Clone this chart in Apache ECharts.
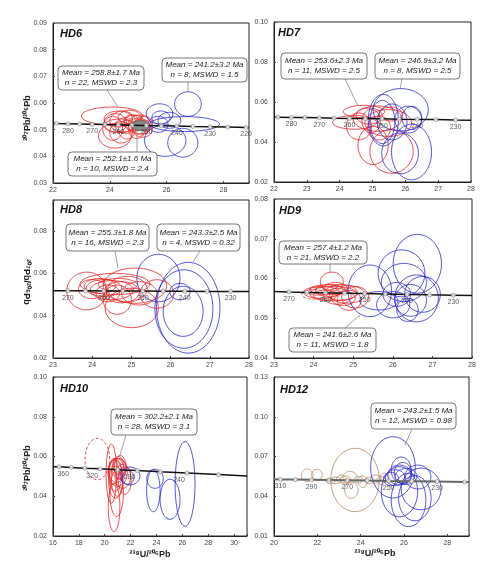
<!DOCTYPE html>
<html><head><meta charset="utf-8">
<script src="https://cdn.jsdelivr.net/npm/echarts@6/dist/echarts.min.js"></script>
<style>html,body{margin:0;padding:0;background:#fff}#c{width:491px;height:562px}</style>
</head><body><div id="c"></div>
<script>
// ---------------- DATA ----------------
// ellipses: [center 238U/206Pb, center 207Pb/206Pb, half-width, half-height]
const hd6Red = [[24.08,0.0551,1.08,0.0034],[24.18,0.0477,0.58,0.0046],[24.30,0.0540,0.50,0.0030],[24.45,0.0530,0.45,0.0040],[24.20,0.0525,0.40,0.0035],[24.55,0.0515,0.35,0.0030],[24.10,0.0505,0.35,0.0045],[24.70,0.0545,0.40,0.0028],[24.60,0.0500,0.30,0.0035],[24.35,0.0515,0.55,0.0025],[24.85,0.0525,0.35,0.0030],[24.40,0.0490,0.40,0.0040],[25.05,0.0520,0.40,0.0035],[25.10,0.0510,0.30,0.0030],[25.20,0.0525,0.30,0.0025],[24.95,0.0505,0.30,0.0038],[25.15,0.0500,0.35,0.0028],[24.75,0.0535,0.25,0.0020],[25.25,0.0515,0.25,0.0020]];
const hd6Mean = [[25.08,0.0515,0.32,0.0019]];
const hd6Blue = [[25.75,0.0559,0.47,0.0038],[26.75,0.0596,0.47,0.0046],[25.80,0.0545,0.32,0.0025],[26.63,0.0521,1.23,0.0028],[25.95,0.0459,0.73,0.0059],[26.57,0.0451,0.53,0.0054],[25.70,0.0520,0.35,0.0030],[26.10,0.0535,0.40,0.0030]];

const hd7Red = [[24.45,0.0498,0.67,0.0034],[24.74,0.0552,0.63,0.0031],[24.59,0.0478,0.38,0.0067],[25.02,0.0383,0.46,0.0096],[25.15,0.0517,0.74,0.0063],[24.96,0.0504,0.28,0.0059],[25.48,0.0495,0.71,0.0067],[25.58,0.0353,0.66,0.0109],[25.55,0.0540,0.35,0.0035],[24.90,0.0530,0.40,0.0040],[25.20,0.0470,0.35,0.0060]];
const hd7Blue = [[25.86,0.0561,0.84,0.0106],[25.33,0.0509,0.46,0.0129],[25.30,0.0500,0.38,0.0108],[25.84,0.0343,0.56,0.0102],[26.19,0.0350,0.61,0.0139],[26.09,0.0512,0.41,0.0067],[26.20,0.0520,0.30,0.0058],[25.60,0.0500,0.45,0.0090]];

const hd8Red = [[23.86,0.0516,0.51,0.0089],[24.58,0.0549,0.89,0.0050],[25.09,0.0541,0.81,0.0083],[25.01,0.0436,0.68,0.0093],[24.64,0.0475,0.36,0.0069],[25.65,0.0502,0.43,0.0067],[24.30,0.0530,0.45,0.0040],[24.50,0.0520,0.55,0.0045],[24.75,0.0510,0.45,0.0050],[24.20,0.0540,0.40,0.0035],[24.90,0.0525,0.50,0.0060],[24.40,0.0505,0.30,0.0040],[25.20,0.0505,0.45,0.0055],[24.65,0.0545,0.50,0.0030],[24.00,0.0525,0.35,0.0045]];
const hd8Blue = [[25.69,0.0577,0.55,0.0112],[26.45,0.0437,0.81,0.0214],[26.34,0.0431,0.74,0.0185],[26.32,0.0420,0.51,0.0118],[26.24,0.0513,0.26,0.0039]];

const hd9Red = [[24.46,0.0592,0.29,0.0024],[25.05,0.0553,0.34,0.0027],[24.20,0.0565,0.45,0.0015],[24.50,0.0562,0.60,0.0018],[24.40,0.0570,0.35,0.0015],[24.70,0.0565,0.40,0.0020],[24.30,0.0558,0.30,0.0013],[24.60,0.0555,0.35,0.0020],[24.85,0.0560,0.45,0.0022],[24.10,0.0568,0.25,0.0010],[24.55,0.0575,0.30,0.0015],[24.75,0.0550,0.30,0.0018],[24.35,0.0572,0.45,0.0012],[24.90,0.0545,0.30,0.0025]];
const hd9Dashed = [[24.00,0.0560,0.30,0.0012]];
const hd9Blue = [[25.42,0.0569,0.55,0.0065],[26.62,0.0637,0.61,0.0074],[26.22,0.0613,0.59,0.0059],[26.28,0.0590,0.57,0.0048],[26.60,0.0550,0.55,0.0059],[26.01,0.0534,0.42,0.0033],[25.65,0.0544,0.48,0.0023],[26.37,0.0521,0.27,0.0029],[26.75,0.0560,0.45,0.0045],[26.10,0.0560,0.35,0.0030],[26.45,0.0545,0.40,0.0040]];

const hd10Red = [[20.51,0.0513,0.41,0.0149],[20.72,0.0344,0.45,0.0122],[20.92,0.0415,0.52,0.0117],[20.90,0.0530,0.60,0.0060],[21.00,0.0520,0.75,0.0070],[20.80,0.0505,0.50,0.0080],[21.10,0.0540,0.55,0.0050],[20.95,0.0490,0.45,0.0090],[21.40,0.0500,0.60,0.0060],[20.70,0.0525,0.35,0.0065],[21.20,0.0545,0.45,0.0060],[20.85,0.0470,0.55,0.0080],[21.55,0.0480,0.50,0.0070],[21.05,0.0555,0.40,0.0045]];
const hd10Dashed = [[19.43,0.0587,0.95,0.0104]];
const hd10Blue = [[21.95,0.0502,0.77,0.0045],[23.89,0.0488,0.64,0.0048],[23.76,0.0428,0.52,0.0106],[25.05,0.0385,0.77,0.0101],[26.21,0.0462,0.77,0.0213],[21.80,0.0495,0.45,0.0035]];

const hd12Brown = [[23.74,0.0523,1.12,0.0239],[21.53,0.0558,0.27,0.0047],[21.98,0.0563,0.25,0.0040],[23.51,0.0543,0.33,0.0044],[23.57,0.0447,0.31,0.0063],[24.09,0.0510,0.21,0.0043],[22.85,0.0520,0.25,0.0025],[23.10,0.0530,0.22,0.0030],[23.30,0.0525,0.25,0.0028],[23.90,0.0525,0.20,0.0025],[24.40,0.0520,0.22,0.0025],[24.70,0.0530,0.25,0.0030],[24.95,0.0520,0.20,0.0030],[25.10,0.0540,0.20,0.0035],[22.60,0.0515,0.20,0.0020]];
const hd12Blue = [[25.49,0.0618,1.03,0.0231],[25.79,0.0434,0.84,0.0189],[26.21,0.0372,0.80,0.0201],[26.50,0.0385,0.75,0.0170],[26.79,0.0455,0.92,0.0157],[26.64,0.0545,0.60,0.0090],[25.87,0.0598,0.46,0.0098],[25.80,0.0560,0.55,0.0075],[25.60,0.0540,0.45,0.0060],[25.95,0.0575,0.40,0.0080],[25.40,0.0530,0.35,0.0050],[26.10,0.0550,0.50,0.0060]];

// concordia tick marks (age in Ma, 238U/206Pb, 207Pb/206Pb) and line ends
const hd6Ages = [285,280,275,270,265,260,255,250,245,240,235,230,225,220];
const hd6AgeX = [22.12,22.53,22.94,23.38,23.83,24.30,24.78,25.29,25.81,26.36,26.93,27.53,28.15,28.80];
const hd6AgeY = [0.0523,0.0522,0.0521,0.0520,0.0519,0.0518,0.0517,0.0516,0.0515,0.0514,0.0512,0.0511,0.0510,0.0508];
const hd6LineX = [22.0,28.9]; const hd6LineY = [0.0524,0.0508];
const hd6AgeLabels = [280,270,260,250,240,230,220];

const hd7Ages = [285,280,275,270,265,260,255,250,245,240,235,230];
const hd7AgeX = [22.12,22.53,22.94,23.38,23.83,24.30,24.78,25.29,25.81,26.36,26.93,27.53];
const hd7AgeY = [0.0524,0.0523,0.0522,0.0521,0.0519,0.0518,0.0517,0.0516,0.0514,0.0513,0.0512,0.0510];
const hd7LineX = [22.0,28.0]; const hd7LineY = [0.0524,0.0509];
const hd7AgeLabels = [280,270,260,250,240,230];

const hd8Ages = [270,265,260,255,250,245,240,235,230];
const hd8AgeX = [23.38,23.83,24.30,24.78,25.29,25.81,26.36,26.93,27.53];
const hd8AgeY = [0.0517,0.0517,0.0516,0.0516,0.0516,0.0515,0.0515,0.0514,0.0514];
const hd8LineX = [23.0,28.0]; const hd8LineY = [0.0517,0.0514];
const hd8AgeLabels = [270,260,250,240,230];

const hd9Ages = [270,265,260,255,250,245,240,235,230];
const hd9AgeX = [23.38,23.83,24.30,24.78,25.29,25.81,26.36,26.93,27.53];
const hd9AgeY = [0.0566,0.0565,0.0564,0.0563,0.0562,0.0561,0.0560,0.0559,0.0558];
const hd9LineX = [23.0,28.0]; const hd9LineY = [0.0567,0.0557];
const hd9AgeLabels = [270,260,250,240,230];

const hd10Ages = [380,360,340,320,300,280,260,240,220];
const hd10AgeX = [16.47,17.41,18.46,19.65,20.99,22.53,24.30,26.36,28.80];
const hd10AgeY = [0.0548,0.0545,0.0541,0.0538,0.0533,0.0529,0.0523,0.0517,0.0509];
const hd10LineX = [16.0,31.0]; const hd10LineY = [0.0549,0.0502];
const hd10AgeLabels = [360,320,280,240];

const hd12Ages = [310,300,290,280,270,260,250,240,230,220];
const hd12AgeX = [20.30,20.99,21.73,22.53,23.38,24.30,25.29,26.36,27.53,28.80];
const hd12AgeY = [0.0527,0.0526,0.0524,0.0522,0.0520,0.0518,0.0516,0.0514,0.0511,0.0508];
const hd12LineX = [20.0,29.0]; const hd12LineY = [0.0528,0.0508];
const hd12AgeLabels = [310,290,270,250,230];

// annotation texts
const hd6Notes = ['Mean = 258.8±1.7 Ma\nn = 22, MSWD = 2.3','Mean = 241.2±3.2 Ma\nn = 8, MSWD = 1.5','Mean = 252.1±1.6 Ma\nn = 10, MSWD = 2.4'];
const hd7Notes = ['Mean = 253.6±2.3 Ma\nn = 11, MSWD = 2.5','Mean = 246.9±3.2 Ma\nn = 8, MSWD = 2.5'];
const hd8Notes = ['Mean = 255.3±1.8 Ma\nn = 16, MSWD = 2.3','Mean = 243.3±2.5 Ma\nn = 4, MSWD = 0.32'];
const hd9Notes = ['Mean = 257.4±1.2 Ma\nn = 21, MSWD = 2.2','Mean = 241.6±2.6 Ma\nn = 11, MSWD = 1.8'];
const hd10Notes = ['Mean = 302.2±2.1 Ma\nn = 28, MSWD = 3.1'];
const hd12Notes = ['Mean = 243.2±1.5 Ma\nn = 12, MSWD = 0.98'];

const panelNames = ['HD6','HD7','HD8','HD9','HD10','HD12'];
const yTitle = '²⁰⁷Pb/²⁰⁶Pb';
const xTitle = '²³⁸U/²⁰⁶Pb';

// ---------------- LAYOUT ----------------
const RED = '#e02525', BLUE = '#2b2bc8', BROWN = '#b08a66';
const FONT = 'Liberation Sans, Arial, sans-serif';
const layout = [
  {left:53, top:23, width:196, height:160, xr:[22,28.9,2], yr:[0.03,0.09,0.01]},
  {left:274, top:22, width:197, height:160, xr:[22,28,1], yr:[0.02,0.10,0.02]},
  {left:53, top:200, width:196, height:158, xr:[23,28,1], yr:[0.02,0.0945,0.02]},
  {left:274, top:199, width:198, height:159, xr:[23,28,1], yr:[0.04,0.08,0.01]},
  {left:53, top:377, width:194, height:159, xr:[16,31,2], yr:[0.02,0.10,0.02]},
  {left:274, top:377, width:195, height:159, xr:[20,29,2], yr:[0.01,0.13,0.03]}
];
const panels = [
  {ell:[[hd6Red,RED],[hd6Blue,BLUE]], mean:hd6Mean, ages:[hd6Ages,hd6AgeX,hd6AgeY,hd6AgeLabels], line:[hd6LineX,hd6LineY], notes:hd6Notes},
  {ell:[[hd7Red,RED],[hd7Blue,BLUE]], ages:[hd7Ages,hd7AgeX,hd7AgeY,hd7AgeLabels], line:[hd7LineX,hd7LineY], notes:hd7Notes},
  {ell:[[hd8Red,RED],[hd8Blue,BLUE]], ages:[hd8Ages,hd8AgeX,hd8AgeY,hd8AgeLabels], line:[hd8LineX,hd8LineY], notes:hd8Notes},
  {ell:[[hd9Red,RED],[hd9Blue,BLUE]], dashed:hd9Dashed, ages:[hd9Ages,hd9AgeX,hd9AgeY,hd9AgeLabels], line:[hd9LineX,hd9LineY], notes:hd9Notes},
  {ell:[[hd10Red,RED],[hd10Blue,BLUE]], dashed:hd10Dashed, ages:[hd10Ages,hd10AgeX,hd10AgeY,hd10AgeLabels], line:[hd10LineX,hd10LineY], notes:hd10Notes, labelOffset:[-8,0]},
  {ell:[[hd12Brown,BROWN],[hd12Blue,BLUE]], ages:[hd12Ages,hd12AgeX,hd12AgeY,hd12AgeLabels], line:[hd12LineX,hd12LineY], notes:hd12Notes, lineColor:'#666'}
];
// annotation boxes (pixel layout) and leader lines
const noteBoxes = [
  [{x:58,y:66,w:86,h:24,l:[107,90,118,107]},{x:162,y:58,w:85,h:24,l:[188,82,188,92]},{x:68,y:152,w:89,h:24,l:[137,152,137,128]}],
  [{x:281,y:53,w:86,h:26,l:[345,79,358,106]},{x:375,y:53,w:85,h:26,l:[402,79,400,89]}],
  [{x:66,y:224,w:83,h:27,l:[115,251,118,268]},{x:157,y:224,w:83,h:27,l:[200,251,193,262]}],
  [{x:279,y:241,w:88,h:23,l:[330,264,330,272]},{x:289,y:328,w:87,h:24,l:[345,328,360,315]}],
  [{x:111,y:409,w:86,h:26,l:[126,435,120,455]}],
  [{x:371,y:403,w:85,h:26,l:[412,429,405,445]}]
];
const titlePos = [[60,28],[278,27],[60,204],[279,205],[60,383],[280,384]];

function fmt(min, step, dec) {
  return function (v) { const k = (v - min) / step; return Math.abs(k - Math.round(k)) < 1e-6 ? v.toFixed(dec) : ''; };
}
function ellipseSeries(i, data, color, opt) {
  opt = opt || {};
  return {
    type: 'custom', xAxisIndex: i, yAxisIndex: i, clip: true, silent: true, animation: false, z: opt.z || 2,
    data: data,
    renderItem: function (params, api) {
      const cx = api.value(0), cy = api.value(1), rx = api.value(2), ry = api.value(3);
      const pts = [];
      for (let k = 0; k < 60; k++) {
        const a = k / 60 * Math.PI * 2;
        pts.push(api.coord([cx + rx * Math.cos(a), cy + ry * Math.sin(a)]));
      }
      return { type: 'polygon', shape: { points: pts },
        style: { fill: opt.fill || 'none', stroke: color, lineWidth: opt.lw || 0.8, lineDash: opt.dash || null } };
    }
  };
}

const grid = [], xAxis = [], yAxis = [], series = [], graphic = [];
layout.forEach(function (L, i) {
  grid.push({ left: L.left, top: L.top, width: L.width, height: L.height, show: true, borderColor: '#222', borderWidth: 1, backgroundColor: '#fff' });
  xAxis.push({ type: 'value', gridIndex: i, min: L.xr[0], max: L.xr[1], interval: L.xr[2],
    axisLine: { show: true, lineStyle: { color: '#222' } }, axisTick: { show: true, inside: true, length: 2, lineStyle: { color: '#444' } },
    splitLine: { show: false },
    axisLabel: { fontSize: 7, color: '#444', fontFamily: FONT, margin: 4, formatter: fmt(L.xr[0], L.xr[2], 0), showMaxLabel: true } });
  yAxis.push({ type: 'value', gridIndex: i, min: L.yr[0], max: L.yr[1], interval: L.yr[2],
    axisLine: { show: true, lineStyle: { color: '#222' } }, axisTick: { show: true, inside: true, length: 2, lineStyle: { color: '#444' } },
    splitLine: { show: false },
    axisLabel: { fontSize: 7, color: '#444', fontFamily: FONT, margin: 6, formatter: fmt(L.yr[0], L.yr[2], 2) } });

  const P = panels[i];
  P.ell.forEach(function (e) { series.push(ellipseSeries(i, e[0], e[1])); });
  if (P.dashed) series.push(ellipseSeries(i, P.dashed, RED, { dash: [3, 2] }));
  if (P.mean) series.push(ellipseSeries(i, P.mean, '#555', { fill: '#8a8a8a', z: 3 }));

  // concordia line
  const lx = P.line[0], ly = P.line[1];
  const pts = [[lx[0], ly[0]]];
  P.ages[1].forEach(function (x, k) { pts.push([x, P.ages[2][k]]); });
  pts.push([lx[1], ly[1]]);
  series.push({ type: 'line', xAxisIndex: i, yAxisIndex: i, data: pts, symbol: 'none', silent: true, animation: false, z: 4,
    lineStyle: { color: P.lineColor || '#111', width: P.lineColor ? 2 : 1.5 } });
  const labelled = P.ages[3];
  series.push({ type: 'scatter', xAxisIndex: i, yAxisIndex: i, silent: true, animation: false, z: 5,
    symbol: 'circle', symbolSize: 4,
    itemStyle: { color: '#fff', borderColor: '#777', borderWidth: 0.8 },
    data: P.ages[0].map(function (a, k) { return [P.ages[1][k], P.ages[2][k], a]; }),
    label: { show: true, position: 'bottom', distance: 1, offset: P.labelOffset || [0, 0], fontSize: 7, color: '#333', fontFamily: FONT,
      formatter: function (p) { return labelled.indexOf(p.value[2]) >= 0 ? String(p.value[2]) : ''; } } });

  // panel title
  graphic.push({ type: 'text', left: titlePos[i][0], top: titlePos[i][1], z: 10,
    style: { text: panelNames[i], font: 'italic bold 11px ' + FONT, fill: '#111' } });
  // notes
  noteBoxes[i].forEach(function (b, k) {
    graphic.push({ type: 'line', z: 9, shape: { x1: b.l[0], y1: b.l[1], x2: b.l[2], y2: b.l[3] }, style: { stroke: '#777', lineWidth: 0.7 } });
    graphic.push({ type: 'rect', z: 10, shape: { x: b.x, y: b.y, width: b.w, height: b.h, r: 4 }, style: { fill: '#fff', stroke: '#555', lineWidth: 0.8 } });
    graphic.push({ type: 'text', z: 11, x: b.x + b.w / 2, y: b.y + b.h / 2,
      style: { text: P.notes[k], font: 'italic 8px ' + FONT, fill: '#222', textAlign: 'center', textVerticalAlign: 'middle', lineHeight: 10 } });
  });
});

// axis titles
graphic.push({ type: 'text', x: 28, y: 118, rotation: Math.PI / 2, z: 10,
  style: { text: yTitle, font: 'bold 9px ' + FONT, fill: '#222', textAlign: 'center', textVerticalAlign: 'middle' } });
graphic.push({ type: 'text', x: 26, y: 282, rotation: -Math.PI / 2, z: 10,
  style: { text: yTitle, font: 'bold 9px ' + FONT, fill: '#222', textAlign: 'center', textVerticalAlign: 'middle' } });
graphic.push({ type: 'text', x: 28, y: 468, rotation: Math.PI / 2, z: 10,
  style: { text: yTitle, font: 'bold 9px ' + FONT, fill: '#222', textAlign: 'center', textVerticalAlign: 'middle' } });
graphic.push({ type: 'text', x: 150, y: 555, z: 10,
  style: { text: xTitle, font: 'bold 9px ' + FONT, fill: '#222', textAlign: 'center', textVerticalAlign: 'middle' } });
graphic.push({ type: 'text', x: 375, y: 554, z: 10,
  style: { text: xTitle, font: 'bold 9px ' + FONT, fill: '#222', textAlign: 'center', textVerticalAlign: 'middle' } });

const chart = echarts.init(document.getElementById('c'), null, { renderer: 'canvas' });
chart.setOption({ backgroundColor: '#fff', animation: false, grid: grid, xAxis: xAxis, yAxis: yAxis, series: series, graphic: graphic });
</script></body></html>
